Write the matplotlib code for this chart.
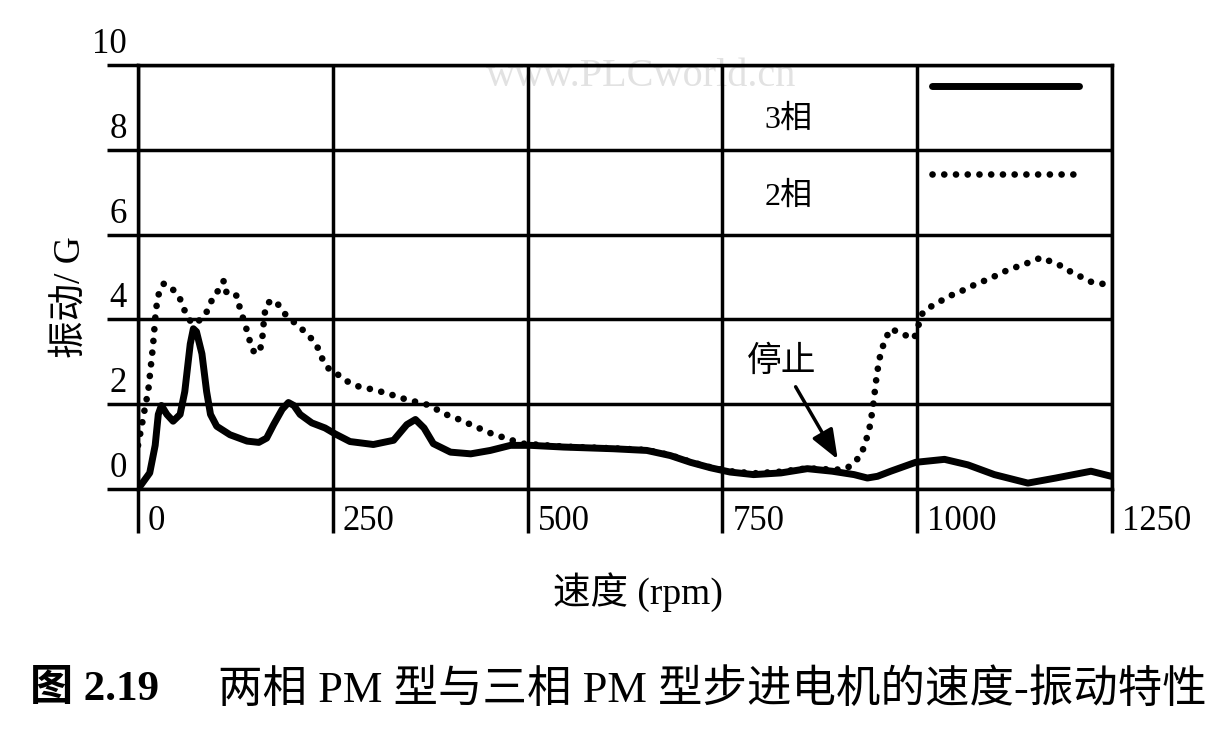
import matplotlib.pyplot as plt
import matplotlib.transforms as mtransforms
from matplotlib.lines import Line2D

# ---------------------------------------------------------------------------
# Data (speed in rpm, vibration in G)
# ---------------------------------------------------------------------------
speed_3ph = [0, 15, 22, 26, 30, 37, 45, 54, 60, 67, 71, 75, 82, 88, 93, 101,
             118, 140, 155, 165, 174, 185, 193, 200, 208, 223, 240, 253, 272,
             302, 328, 345, 356, 367, 379, 401, 427, 452, 478, 504, 546, 610,
             653, 683, 709, 735, 760, 790, 825, 859, 891, 919, 936, 949, 966,
             998, 1035, 1065, 1099, 1142, 1178, 1223, 1249]
vib_3ph = [0.0, 0.38, 1.03, 1.76, 1.97, 1.76, 1.60, 1.76, 2.30, 3.42, 3.78,
           3.71, 3.19, 2.30, 1.76, 1.48, 1.28, 1.13, 1.10, 1.20, 1.52, 1.88,
           2.04, 1.97, 1.76, 1.56, 1.44, 1.30, 1.12, 1.05, 1.15, 1.52, 1.64,
           1.44, 1.07, 0.87, 0.83, 0.91, 1.03, 1.03, 0.99, 0.95, 0.91, 0.79,
           0.63, 0.50, 0.40, 0.34, 0.38, 0.48, 0.42, 0.34, 0.26, 0.30, 0.42,
           0.63, 0.70, 0.57, 0.34, 0.14, 0.26, 0.42, 0.30]

speed_2ph = [0, 5, 9, 13, 16, 19, 21, 23, 27, 33, 40, 48, 54, 60, 69, 75, 84,
             90, 97, 103, 110, 114, 127, 131, 138, 142, 146, 150, 157, 160,
             162, 165, 172, 178, 187, 195, 206, 221, 230, 236, 245, 253, 266,
             283, 298, 311, 326, 339, 354, 375, 392, 407, 422, 437, 452, 465,
             480, 495, 546, 610, 653, 683, 709, 735, 760, 790, 825, 859, 889,
             905, 915, 928, 938, 943, 947, 951, 958, 966, 983, 996, 1007, 1022,
             1035, 1047, 1062, 1077, 1092, 1105, 1118, 1131, 1146, 1159, 1172,
             1185, 1200, 1212, 1225, 1246]
vib_2ph = [1.03, 1.52, 1.93, 2.30, 2.82, 3.34, 3.78, 4.24, 4.64, 4.84, 4.80,
           4.64, 4.48, 4.20, 3.90, 3.93, 4.05, 4.24, 4.56, 4.68, 4.91, 4.60,
           4.56, 4.24, 3.85, 3.58, 3.34, 3.19, 3.31, 3.64, 4.09, 4.36, 4.46,
           4.40, 4.16, 4.01, 3.85, 3.58, 3.36, 3.09, 2.83, 2.75, 2.56, 2.42,
           2.36, 2.30, 2.22, 2.14, 2.07, 1.97, 1.78, 1.68, 1.56, 1.44, 1.32,
           1.24, 1.15, 1.07, 1.00, 0.96, 0.92, 0.80, 0.64, 0.51, 0.42, 0.37,
           0.41, 0.49, 0.46, 0.46, 0.55, 0.80, 1.36, 1.90, 2.53, 3.04, 3.50,
           3.78, 3.64, 3.55, 4.16, 4.36, 4.48, 4.60, 4.71, 4.85, 4.95, 5.07,
           5.18, 5.26, 5.36, 5.46, 5.36, 5.26, 5.09, 4.99, 4.87, 4.82]

x_ticks = [0, 250, 500, 750, 1000, 1250]
y_ticks = [0, 2, 4, 6, 8, 10]
series_labels = ["3相", "2相"]

FONT = ["Liberation Serif", "Noto Sans CJK SC", "DejaVu Sans"]
plt.rcParams["font.family"] = FONT

# ---------------------------------------------------------------------------
# Figure
# ---------------------------------------------------------------------------
fig = plt.figure(figsize=(12.27, 7.30), dpi=100)
ax = fig.add_axes([0.1125, 0.3301, 0.7938, 0.5808])

solid_kw = dict(color="black", lw=5.0, solid_joinstyle="round",
                solid_capstyle="round")
dot_kw = dict(color="black", lw=4.8, linestyle=(0, (0.01, 1.75)),
              dash_capstyle="round")

ax.plot(speed_3ph, vib_3ph, zorder=3, **solid_kw)
ax.plot(speed_2ph, vib_2ph, zorder=3, **dot_kw)

ax.set_xlim(0, 1250)
ax.set_ylim(0, 10)
ax.set_xticks(x_ticks)
ax.set_yticks(y_ticks)
ax.grid(True, color="black", lw=2.5)
for sp in ax.spines.values():
    sp.set_linewidth(2.5)

ax.tick_params(axis="x", length=31.7, width=2.5, direction="out",
               pad=-20.2, labelsize=25)
ax.tick_params(axis="y", length=22.3, width=2.5, direction="out",
               pad=-14.4, labelsize=25)

# tick labels sit beside / above their grid line, as in the scan
dx = mtransforms.ScaledTranslation(0.10, 0, fig.dpi_scale_trans)
dy = mtransforms.ScaledTranslation(0, 0.04, fig.dpi_scale_trans)
for lab in ax.get_xticklabels():
    lab.set_horizontalalignment("left")
    lab.set_transform(lab.get_transform() + dx)
for lab in ax.get_yticklabels():
    lab.set_verticalalignment("bottom")
    lab.set_transform(lab.get_transform() + dy)

ax.set_xlabel("速度 (rpm)", fontsize=27)
ax.xaxis.set_label_coords(0.513, -0.195)
ax.set_ylabel("振动/ G", fontsize=27)
ax.yaxis.set_label_coords(-0.052, 0.452)

# legend: samples in the top-right cell, names in the cell next to it
handles = [Line2D([], [], **solid_kw), Line2D([], [], **dot_kw)]
ax.legend(handles, ["", ""], loc="center", bbox_to_anchor=(0.891, 0.839),
          frameon=False, fontsize=20, handlelength=5.3, handletextpad=0,
          labelspacing=2.25, borderpad=0)
ax.text(835, 8.70, series_labels[0], ha="center", va="center", fontsize=23)
ax.text(835, 6.88, series_labels[1], ha="center", va="center", fontsize=23)

ax.annotate("停止", xy=(898, 0.70), xytext=(826, 2.98), fontsize=25,
            ha="center", va="center",
            arrowprops=dict(arrowstyle="-|>,head_length=0.9,head_width=0.35",
                            color="black", lw=2.5, mutation_scale=20,
                            shrinkA=4, shrinkB=0))

# faint site watermark under the grid
ax.text(645, 9.74, "www.PLCworld.cn", ha="center", va="center",
        fontsize=29, color="#e2e2e2", zorder=1)

# caption
fig.text(30 / 1227, 1 - 690 / 730, "图 2.19", fontsize=31, weight="bold",
         ha="left", va="center")
fig.text(218 / 1227, 1 - 690 / 730, "两相 PM 型与三相 PM 型步进电机的速度-振动特性",
         fontsize=32, ha="left", va="center")

fig.savefig("out.png", dpi=100)
